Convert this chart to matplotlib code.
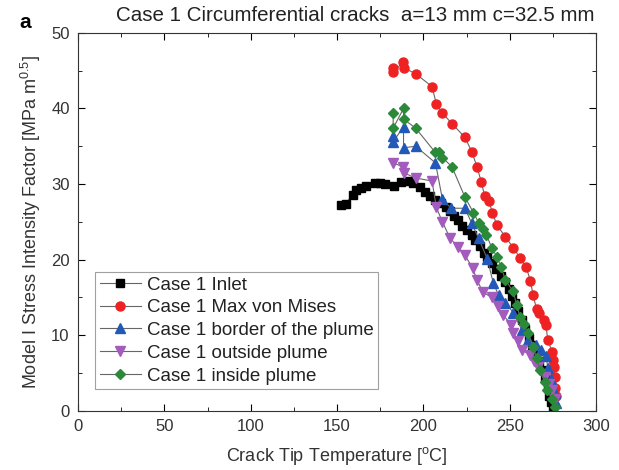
import matplotlib.pyplot as plt
from matplotlib.ticker import MultipleLocator

plt.rcParams['font.family'] = ['Liberation Sans', 'DejaVu Sans']
plt.rcParams['mathtext.fontset'] = 'custom'
plt.rcParams['mathtext.rm'] = 'Liberation Sans'
plt.rcParams['mathtext.it'] = 'Liberation Sans:italic'

# crack tip temperature [C] and stress intensity factor [MPa m^0.5] per location
inlet_t = [152.5, 155, 159, 161, 164, 167, 172, 175, 178, 183, 187, 191, 194, 198,
           201, 204, 207, 210, 213, 215.5, 218, 220, 222.5, 225, 228, 230, 232.5,
           235, 237, 239.5, 242, 245, 247.5, 249.5, 251.5, 253, 255, 257, 259, 261,
           263, 265, 267, 269, 270.5, 272, 273, 274, 275]
inlet_k = [27.2, 27.4, 28.6, 29.2, 29.5, 29.7, 30.2, 30.2, 30.0, 29.8, 30.3, 30.4,
           30.1, 29.6, 28.9, 28.4, 27.9, 27.5, 27.0, 26.4, 25.8, 25.2, 24.5, 23.9,
           23.3, 22.6, 21.8, 20.9, 20.3, 19.6, 18.8, 17.8, 17.0, 16.1, 15.2, 14.3,
           13.2, 12.0, 10.8, 9.6, 8.7, 7.6, 6.6, 5.4, 4.4, 3.1, 2.0, 1.2, 0.4]

mises_t = [182.5, 182.5, 188, 188.5, 195.5, 205, 207.5, 211, 216.5, 224, 228, 231,
           233.5, 235.5, 238, 240, 242.5, 247.5, 252, 256, 259.5, 262, 263.5, 265.5,
           267, 270, 271, 272, 274.5, 275, 275.5, 276, 276.2, 276.8]
mises_k = [45.4, 44.8, 46.1, 45.4, 44.6, 42.9, 40.6, 39.4, 38.0, 36.2, 34.3, 32.3,
           30.3, 28.4, 27.7, 26.2, 24.6, 23.0, 21.6, 20.2, 19.0, 17.2, 15.3, 13.5,
           13.0, 12.0, 11.3, 9.4, 7.8, 6.7, 5.8, 4.5, 3.0, 2.0]

border_t = [182.5, 182.5, 188.5, 188.5, 195.5, 207, 211, 216, 224, 228, 232, 237,
            240.5, 243.5, 247.5, 252, 257, 260.5, 265, 268, 271, 272, 274, 276, 276.5]
border_k = [36.3, 35.6, 37.6, 34.8, 35.0, 32.8, 28.0, 26.8, 26.8, 24.8, 22.8, 20.1,
            16.9, 15.3, 14.3, 13.0, 10.7, 9.4, 8.7, 8.0, 7.3, 5.7, 4.2, 2.4, 1.0]

outside_t = [182.5, 188, 188.5, 195.5, 205, 207.5, 211, 215.5, 220, 224, 228.5, 231,
             234.5, 239.5, 243, 246, 251, 252, 254.5, 257, 261.5, 264, 266.5, 270.5,
             272.5, 274.5, 276]
outside_k = [32.8, 32.3, 31.5, 30.8, 30.4, 26.9, 25.0, 22.8, 21.7, 20.6, 18.9, 17.3,
             15.7, 15.0, 13.8, 12.7, 11.4, 10.3, 9.2, 8.1, 7.4, 6.6, 5.8, 4.5, 3.6,
             2.8, 1.5]

inside_t = [182.5, 182.5, 188.5, 188.5, 195.5, 206.5, 209, 211, 216.5, 224, 229, 232,
            234.5, 236.5, 239.5, 242.5, 245, 247.5, 252, 254, 256, 258, 260.5, 263.5,
            265.5, 267.5, 270.5, 271.5, 274.5, 276]
inside_k = [39.4, 37.4, 40.0, 38.6, 37.4, 34.3, 34.2, 33.5, 32.3, 28.3, 26.2, 24.9,
            24.0, 23.3, 21.6, 20.4, 19.0, 17.3, 15.8, 14.0, 12.4, 11.5, 10.3, 8.5,
            7.0, 5.4, 3.8, 2.8, 1.5, 0.5]

series = [
    ("Case 1 Inlet", inlet_t, inlet_k, "s", "#000000", 5.5),
    ("Case 1 Max von Mises", mises_t, mises_k, "o", "#ee2222", 6.5),
    ("Case 1 border of the plume", border_t, border_k, "^", "#2458b8", 6.5),
    ("Case 1 outside plume", outside_t, outside_k, "v", "#a35bbd", 6.5),
    ("Case 1 inside plume", inside_t, inside_k, "D", "#2a8a3a", 5.5),
]

fig = plt.figure(figsize=(6.19, 4.7), dpi=100)
ax = fig.add_axes([0.126, 0.126, 0.837, 0.804])

for name, t, k, mk, col, ms in series:
    ax.plot(t, k, color="#666666", lw=0.8, marker=mk, ms=ms,
            markerfacecolor=col, markeredgecolor=col, label=name)

ax.set_xlim(0, 300)
ax.set_ylim(0, 50)
ax.xaxis.set_major_locator(MultipleLocator(50))
ax.xaxis.set_minor_locator(MultipleLocator(25))
ax.yaxis.set_major_locator(MultipleLocator(10))
ax.yaxis.set_minor_locator(MultipleLocator(5))
ax.tick_params(which="both", direction="in", top=True, right=True,
               labelsize=12, labelcolor="#333333", pad=6)
ax.tick_params(which="major", length=5)
ax.tick_params(which="minor", length=3)
for s in ax.spines.values():
    s.set_color("#333333")

ax.set_xlabel(r"Crack Tip Temperature [$^{\mathrm{o}}$C]", fontsize=13,
              color="#333333", labelpad=8)
ax.set_ylabel(r"Model I Stress Intensity Factor [MPa m$^{0.5}$]", fontsize=13,
              color="#333333", labelpad=6)
fig.text(0.574, 0.966, "Case 1 Circumferential cracks  a=13 mm c=32.5 mm",
         fontsize=14.8, color="#222222", ha="center", va="center")
fig.text(0.032, 0.94, "a", fontsize=15, fontweight="bold")

leg = ax.legend(loc="upper left", bbox_to_anchor=(0.033, 0.368), fontsize=13.5,
                fancybox=False, edgecolor="#888888", borderaxespad=0,
                handlelength=2.2, labelspacing=0.3, borderpad=0.25,
                handletextpad=0.3, labelcolor="#222222")
leg.get_frame().set_linewidth(0.8)

fig.savefig("out.png", dpi=100)
